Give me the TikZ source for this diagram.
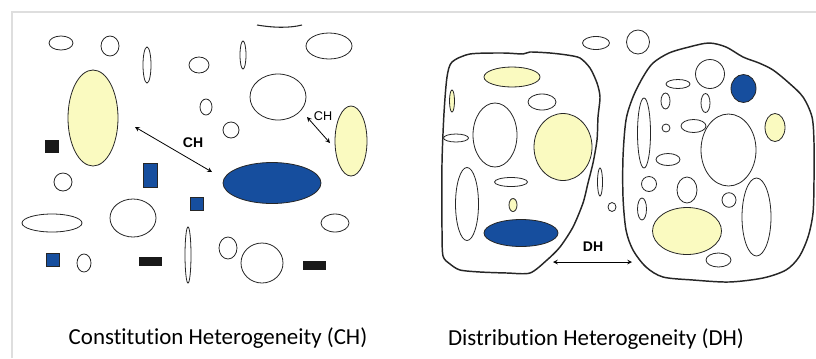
\documentclass[tikz,border=0pt]{standalone}
\usepackage{fontspec}
\setmainfont{Carlito}[Ligatures=NoCommon]
\newfontfamily\tagfont{Liberation Sans}
\definecolor{grainyellow}{RGB}{250,250,192}
\definecolor{grainblue}{RGB}{22,78,158}
\definecolor{framegray}{RGB}{222,222,222}

\begin{document}
\begin{tikzpicture}[x=0.75pt,y=-0.75pt,>=stealth,
  grain/.style={draw=black!85, line width=0.6pt, fill=white},
  ygrain/.style={grain, fill=grainyellow},
  bgrain/.style={grain, fill=grainblue},
  bar/.style={fill=black!90},
  blob/.style={draw=black!85, line width=1.1pt, line join=round},
  tag/.style={font=\tagfont\fontsize{10.5}{12}\selectfont\bfseries, inner sep=0pt},
  caption/.style={font=\fontsize{17.2}{20}\selectfont, inner sep=0pt}]
  \useasboundingbox (0,0) rectangle (816,358);
  \draw[framegray, line width=1.5pt] (12,358) -- (12,12) -- (816,12);

  % constitution panel
  \draw[black!85, line width=0.8pt] (257,25) .. controls (275,28) and (290,28) .. (302,25);
  \draw[grain] (61,43) ellipse (12 and 7);
  \draw[grain] (110,46) ellipse (9 and 10);
  \draw[grain] (147,65) ellipse (4 and 18);
  \draw[grain] (243,55) ellipse (3 and 14);
  \draw[grain] (329,46) ellipse (23 and 13);
  \draw[grain] (199,65) ellipse (10 and 8);
  \draw[grain] (278,97) ellipse (28 and 23);
  \draw[grain] (206,107) ellipse (6 and 8);
  \draw[grain] (231,130) ellipse (8 and 8);
  \draw[ygrain] (93,118) ellipse (25 and 48);
  \draw[ygrain] (351,141) ellipse (16 and 35);
  \draw[bgrain] (272,183) ellipse (49 and 20.5);
  \draw[grain] (63,182) ellipse (9 and 9);
  \draw[grain] (52,223) ellipse (30 and 9);
  \draw[grain] (133,218) ellipse (23 and 19);
  \draw[grain] (335,223) ellipse (14 and 9);
  \draw[grain] (188,255) ellipse (3 and 28);
  \draw[grain] (228,248) ellipse (9 and 11);
  \draw[grain] (262,263) ellipse (21 and 20);
  \draw[grain] (84,263) ellipse (7 and 9);
  \fill[bar] (45,140) rectangle (59,153);
  \fill[bar] (139,257) rectangle (162,266);
  \fill[bar] (303,261) rectangle (326,270);
  \draw[bgrain, line width=0.3pt] (143,163) rectangle (157,187);
  \draw[bgrain, line width=0.3pt] (190,197) rectangle (203,210);
  \draw[bgrain, line width=0.3pt] (46,253) rectangle (59,266);

  \coordinate (chA1) at (135,127);
  \coordinate (chA2) at (212,172);
  \coordinate (chB1) at (307,117);
  \coordinate (chB2) at (330,143);
  \draw[<->, line width=0.6pt] (chA1) -- (chA2);
  \draw[<->, line width=0.6pt] (chB1) -- (chB2);
  \node[tag] (chA) at (193,143) {CH};
  \node[tag, font=\tagfont\fontsize{9.5}{11}\selectfont] (chB) at (323,116) {CH};

  % distribution panel
  \draw[blob] plot[smooth cycle, tension=0.45] coordinates {
    (452,62) (470,54) (503,53) (523,54) (530,52) (550,53) (567,55) (580,58)
    (590,68) (597,83) (600,97) (598,117) (597,140) (593,163) (588,183) (583,203)
    (573,227) (560,247) (547,260) (530,273) (507,273) (480,272) (460,270) (450,264)
    (443,256) (442,230) (442,163) (444,113) (447,77)};
  \draw[blob] plot[smooth cycle, tension=0.5] coordinates {
    (643,77) (653,63) (669,53) (689,47) (709,43) (726,47) (743,57) (759,63)
    (773,70) (789,83) (803,97) (812,117) (814,143) (814,180) (813,213) (808,237)
    (799,257) (786,270) (763,278) (729,282) (693,280) (663,277) (646,267) (633,250)
    (626,230) (623,197) (623,157) (626,120) (633,97)};

  \draw[ygrain] (512,77) ellipse (28 and 10);
  \draw[ygrain] (452,101) ellipse (2.5 and 11);
  \draw[grain] (542,102) ellipse (14 and 8);
  \draw[grain] (495,135) ellipse (22 and 32);
  \draw[grain] (456,138) ellipse (12.5 and 4);
  \draw[ygrain] (563,147) ellipse (29 and 33.5);
  \draw[grain] (467,204) ellipse (11.5 and 36.5);
  \draw[grain] (511,182) ellipse (16.5 and 4.5);
  \draw[ygrain] (513,205) ellipse (4 and 6.5);
  \draw[bgrain] (521,233) ellipse (37 and 13.5);

  \draw[grain] (596,43) ellipse (13.5 and 6.5);
  \draw[grain] (638,42) ellipse (11.5 and 12);
  \draw[grain] (600,182) ellipse (2.5 and 14);
  \draw[grain] (612,207) ellipse (4 and 4.5);

  \draw[grain] (710,74) ellipse (14.5 and 14.5);
  \draw[bgrain] (743.5,88.5) ellipse (12.5 and 14);
  \draw[grain] (678,84) ellipse (12 and 4.5);
  \draw[grain] (665.5,101) ellipse (4.5 and 8);
  \draw[grain] (705.5,103) ellipse (4.5 and 9.5);
  \draw[grain] (644,133) ellipse (6.5 and 35);
  \draw[grain] (666,128) ellipse (4 and 4);
  \draw[grain] (693.5,126) ellipse (12.5 and 6.5);
  \draw[grain] (728.5,150) ellipse (27.5 and 36);
  \draw[ygrain] (775,127.5) ellipse (10 and 14);
  \draw[grain] (668,159.5) ellipse (12 and 6);
  \draw[grain] (649,184) ellipse (7.5 and 7.5);
  \draw[grain] (687,190) ellipse (10 and 13);
  \draw[grain] (729,200) ellipse (7 and 7.3);
  \draw[grain] (756.5,217) ellipse (14.5 and 39);
  \draw[grain] (642,209) ellipse (4.5 and 11);
  \draw[ygrain] (687,231) ellipse (34.5 and 23.5);
  \draw[grain] (718.5,260) ellipse (12.5 and 7);

  \coordinate (dh1) at (553,262);
  \coordinate (dh2) at (632,262);
  \draw[<->, line width=0.6pt] (dh1) -- (dh2);
  \node[tag] (dh) at (593,247) {DH};

  % captions
  \node[caption, anchor=base] (capCH) at (218,344) {Constitution Heterogeneity (CH)};
  \node[caption, anchor=base] (capDH) at (596,345) {Distribution Heterogeneity (DH)};
\end{tikzpicture}
\end{document}
